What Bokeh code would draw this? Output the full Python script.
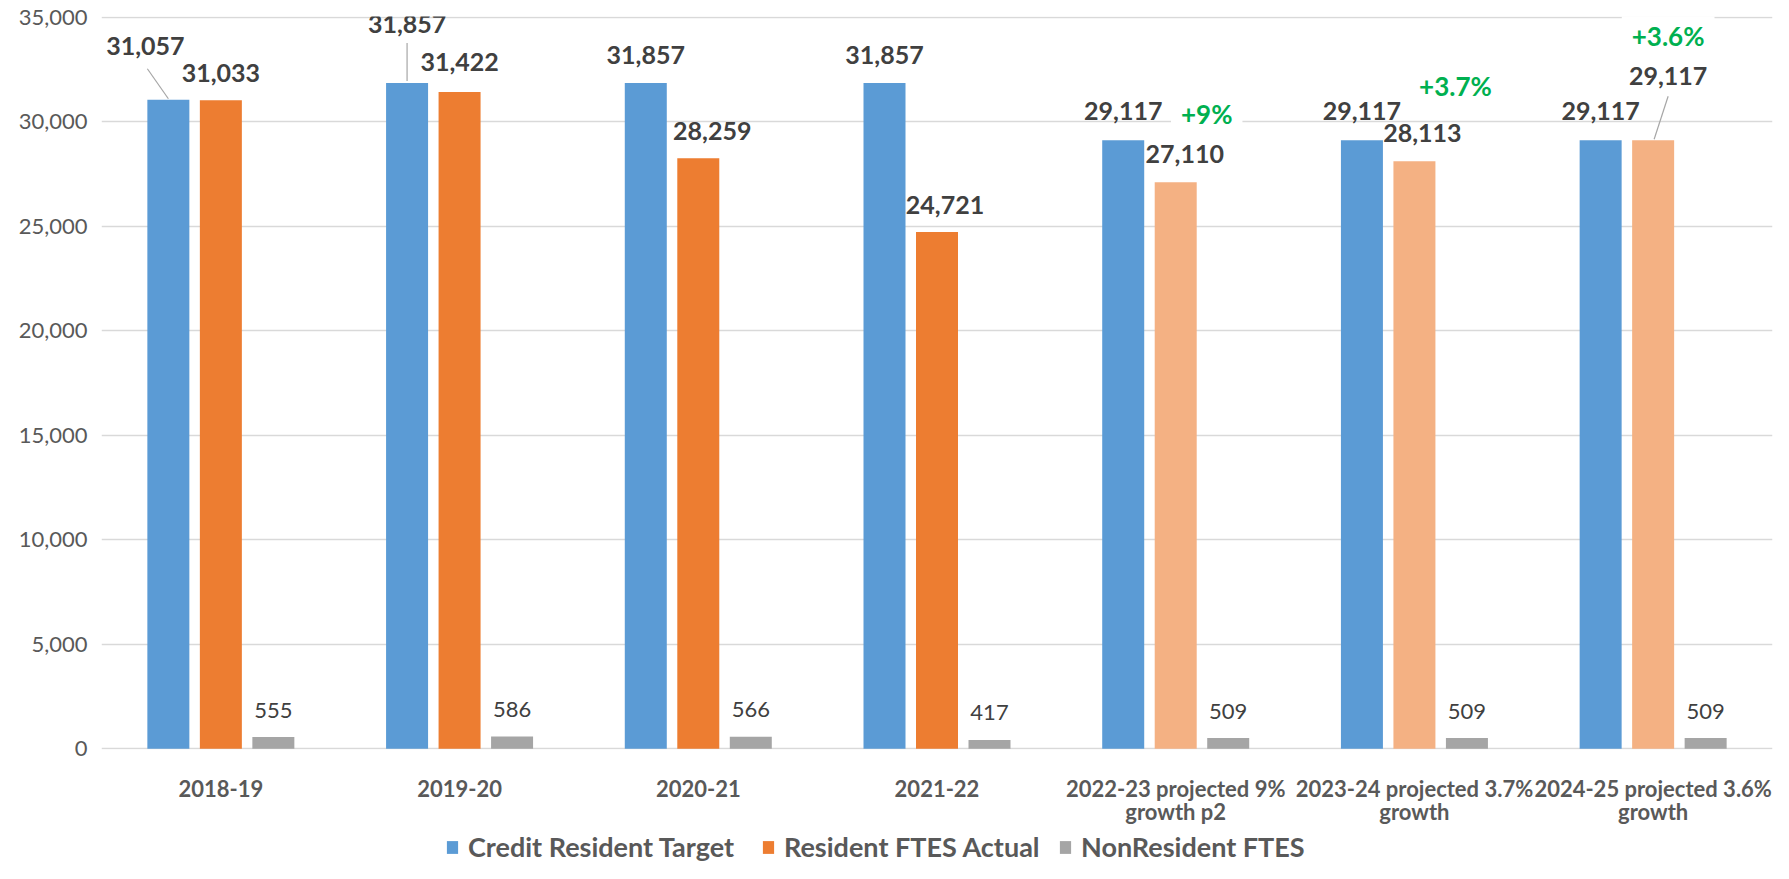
from bokeh.plotting import figure
from bokeh.layouts import column
from bokeh.models import (ColumnDataSource, Range1d, FixedTicker, NumeralTickFormatter,
                          Legend, LegendItem)
from bokeh.core.properties import value
from bokeh.embed import file_html
from bokeh.resources import INLINE

# ---------------- data ----------------
categories = ["2018-19", "2019-20", "2020-21", "2021-22",
              "2022-23 projected 9%\ngrowth p2",
              "2023-24 projected 3.7%\ngrowth",
              "2024-25 projected 3.6%\ngrowth"]
credit_target = [31057, 31857, 31857, 31857, 29117, 29117, 29117]
resident_actual = [31033, 31422, 28259, 24721, 27110, 28113, 29117]
nonresident = [555, 586, 566, 417, 509, 509, 509]
projected = [False, False, False, False, True, True, True]
growth_labels = ["", "", "", "", "+9%", "+3.7%", "+3.6%"]
series_names = ["Credit Resident Target", "Resident FTES Actual", "NonResident FTES"]
y_ticks = [0, 5000, 10000, 15000, 20000, 25000, 30000, 35000]

# ---------------- layout ----------------
FONT = "Lato"
W, H1, H2 = 1773, 829, 34
ML, MR, MT, MB = 101, 1, 16, 80
FW = W - ML - MR
FH = H1 - MT - MB
Y0, Y1 = -40, 35040
n = len(categories)
XPX = n / FW               # data units per pixel (x)
YPX = (Y1 - Y0) / FH       # data units per pixel (y)

BLUE, ORANGE, LORANGE, GRAY = "#5B9BD5", "#ED7D31", "#F4B183", "#A5A5A5"
TXT = "#404040"
AX = "#595959"

xc = [i + 0.5 for i in range(n)]
step = 52.5 * XPX
bw = 42 * XPX

p = figure(width=W, height=H1, output_backend="svg", toolbar_location=None,
           x_range=Range1d(0, n), y_range=Range1d(Y0, Y1),
           min_border_left=ML, min_border_right=MR, min_border_top=MT,
           min_border_bottom=MB)
p.outline_line_color = None
p.background_fill_color = "white"
p.border_fill_color = "white"

# axes
p.xaxis.ticker = FixedTicker(ticks=xc)
p.xaxis.major_label_overrides = {x: c for x, c in zip(xc, categories)}
p.xaxis.major_label_text_font = FONT
p.xaxis.major_label_text_font_style = "bold"
p.xaxis.major_label_text_font_size = "22px"
p.xaxis.major_label_text_line_height = 0.88
p.xaxis.major_label_text_color = AX
p.xaxis.major_label_standoff = 25
p.yaxis.ticker = FixedTicker(ticks=y_ticks)
p.yaxis.formatter = NumeralTickFormatter(format="0,0")
p.yaxis.major_label_text_font = FONT
p.yaxis.major_label_text_font_size = "22px"
p.yaxis.major_label_text_color = AX
p.yaxis.major_label_standoff = 14
for ax in (p.xaxis, p.yaxis):
    ax.axis_line_color = None
    ax.major_tick_line_color = None
    ax.minor_tick_line_color = None
    ax.major_tick_out = 0
    ax.major_tick_in = 0
p.xgrid.visible = False
p.ygrid.ticker = FixedTicker(ticks=y_ticks)
p.ygrid.grid_line_color = "#D9D9D9"
p.ygrid.grid_line_width = 1.5

# bars
xb = [x - step for x in xc]
xo = xc
xg = [x + step for x in xc]
ocolors = [LORANGE if pr else ORANGE for pr in projected]
src = ColumnDataSource(dict(xb=xb, xo=xo, xg=xg, b=credit_target, o=resident_actual,
                            g=nonresident, oc=ocolors))
p.vbar(x="xb", top="b", width=bw, source=src, fill_color=BLUE, line_color=None)
p.vbar(x="xo", top="o", width=bw, source=src, fill_color="oc", line_color=None)
p.vbar(x="xg", top="g", width=bw, source=src, fill_color=GRAY, line_color=None)

# growth annotations (white boxed, above projected orange bars)
g_dx = {4: 31, 5: 41, 6: 15}
g_dy = {4: -68, 5: -75, 6: -104}
gi = [i for i, t in enumerate(growth_labels) if t]
p.text(x=[xo[i] + g_dx[i] * XPX for i in gi],
       y=[resident_actual[i] - g_dy[i] * YPX for i in gi],
       text=[growth_labels[i] for i in gi],
       text_font=value(FONT), text_font_style="bold", text_font_size="26px",
       text_color="#00B050", text_align="center", text_baseline="middle",
       background_fill_color="white", padding=10)

# leader lines (pixel offsets relative to bar top centre)
leaders = [(xb, credit_target, 0, (-21, -31), (0, -1)),
           (xb, credit_target, 1, (0, -40), (0, -2)),
           (xo, resident_actual, 6, (15, -44), (1, -1))]
p.segment(x0=[xs[i] + a[0] * XPX for xs, ys, i, a, b in leaders],
          y0=[ys[i] - a[1] * YPX for xs, ys, i, a, b in leaders],
          x1=[xs[i] + b[0] * XPX for xs, ys, i, a, b in leaders],
          y1=[ys[i] - b[1] * YPX for xs, ys, i, a, b in leaders],
          line_color="#A6A6A6", line_width=1.2)

# value labels
blue_dx = [-23, 0, 0, 0, 0, 0, 0]
blue_dy = [-54, -59, -28, -28, -29, -29, -29]
orange_dx = [0, 0, 14, 8, 9, 8, 15]
orange_dy = [-27, -30, -27, -27, -28, -28, -64]
fmt = lambda v: f"{v:,}"
p.text(x=xb, y=credit_target, text=[fmt(v) for v in credit_target],
       x_offset=blue_dx, y_offset=blue_dy,
       text_font=value(FONT), text_font_style="bold", text_font_size="25px",
       text_color=TXT, text_align="center", text_baseline="middle")
p.text(x=xo, y=resident_actual, text=[fmt(v) for v in resident_actual],
       x_offset=orange_dx, y_offset=orange_dy,
       text_font=value(FONT), text_font_style="bold", text_font_size="25px",
       text_color=TXT, text_align="center", text_baseline="middle")
p.text(x=xg, y=nonresident, text=[fmt(v) for v in nonresident],
       y_offset=-27,
       text_font=value(FONT), text_font_size="22px",
       text_color=TXT, text_align="center", text_baseline="middle")

# ---------------- legend strip ----------------
p2 = figure(width=W, height=H2, output_backend="svg", toolbar_location=None,
            x_axis_type=None, y_axis_type=None,
            x_range=Range1d(0, 1), y_range=Range1d(0, 1),
            min_border_left=0, min_border_right=0, min_border_top=0,
            min_border_bottom=0)
p2.outline_line_color = None
p2.xgrid.visible = False
p2.ygrid.visible = False
# zero-height swatch renderers (only used for the legend keys)
swatches = [p2.vbar(x=[0.5], top=[0], bottom=[0], width=0.01, fill_color=c,
                    line_color=None) for c in (BLUE, ORANGE, GRAY)]
legend_x = [344, 660, 957]   # relative to the (aligned) frame left edge
for name, r, lx in zip(series_names, swatches, legend_x):
    lg = Legend(items=[LegendItem(label=name, renderers=[r], index=0)],
                location=(lx, 0), orientation="horizontal",
                padding=0, margin=0, border_line_color=None,
                background_fill_alpha=0, glyph_width=14, glyph_height=16,
                label_standoff=9, label_text_font=FONT,
                label_text_font_style="bold", label_text_font_size="27px",
                label_text_color=AX, label_text_baseline="middle")
    p2.add_layout(lg, "center")

layout = column(p, p2, spacing=0)
open("out.html", "w").write(file_html(layout, INLINE))
